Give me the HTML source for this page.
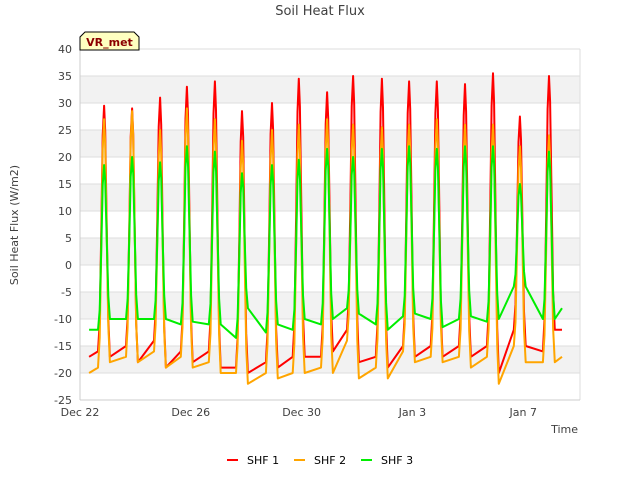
<!DOCTYPE html>
<html><head><meta charset="utf-8"><style>
body{margin:0;background:#fff;}
svg text{font-family:"DejaVu Sans","Liberation Sans",sans-serif;}
</style></head><body>
<svg id="chart" width="640" height="480" xmlns="http://www.w3.org/2000/svg">
<rect width="640" height="480" fill="#fff"/>
<text x="320" y="15" text-anchor="middle" font-size="13" fill="#404040">Soil Heat Flux</text>
<g id="bands"></g>
<g id="grid"></g>
<g id="yticks"></g>
<g id="xticks"></g>
<g id="series"></g>
<line x1="80" y1="400" x2="580" y2="400" stroke="#ccc"/>
<line x1="80" y1="49" x2="80" y2="400" stroke="#ccc"/>
<text transform="translate(18,225) rotate(-90)" text-anchor="middle" font-size="11" fill="#404040">Soil Heat Flux (W/m2)</text>
<text x="578" y="433" text-anchor="end" font-size="11" fill="#404040">Time</text>
<g>
<path d="M80,50 L80,37 L85,32 L134,32 L139,37 L139,50 Z" fill="#ffffc0" stroke="#000" stroke-width="1"/>
<text x="109.5" y="46" text-anchor="middle" font-size="11" font-weight="bold" fill="#8b0000">VR_met</text>
</g>
<g id="legend"></g>
</svg>
<script>
const yTicks=[40,35,30,25,20,15,10,5,0,-5,-10,-15,-20,-25];
const xTickLabels=["Dec 22","Dec 26","Dec 30","Jan 3","Jan 7"];
const xTickDays=[0,4,8,12,16];
const seriesNames=["SHF 1","SHF 2","SHF 3"];
const seriesColors=["#ff0000","#ffa500","#00ee00"];
const peakDays=[0.87,1.88,2.89,3.86,4.87,5.85,6.93,7.9,8.92,9.86,10.9,11.88,12.88,13.9,14.91,15.88,16.93];
const peak1=[29.5,29,31,33,34,28.5,30,34.5,32,35,34.5,34,34,33.5,35.5,27.5,35];
const peak2=[27,28.5,25,29,27,23,25,26,27,26,25.5,26,27,26,26,22,24];
const peak3=[18.5,20,19,22,21,17,18.5,19.5,21.5,20,21.5,22,21.5,22,22,15,21];
const nightEnd1=[-16,-15,-14,-16,-16,-19,-18,-17,-17,-12,-17,-15,-15,-15,-15,-12,-16];
const nightStart1=[-17,-18,-19,-18,-19,-20,-19,-17,-16,-18,-19,-17,-17,-17,-20,-15,-12];
const nightEnd2=[-19,-17,-16,-17,-18,-20,-20,-20,-19,-14,-19,-16,-17,-17,-17,-15,-18];
const nightStart2=[-18,-18,-19,-19,-20,-22,-21,-20,-20,-21,-21,-18,-18,-19,-22,-18,-18];
const nightEnd3=[-12,-10,-10,-11,-11,-13.5,-12.5,-12,-11,-8,-11,-9.5,-10,-10,-10.5,-4,-10];
const nightStart3=[-10,-10,-10,-10.5,-11,-8,-11,-10,-10,-9,-12,-9,-11.5,-9.5,-10,-4,-10];
const startDay=0.33, endDay=17.4;
const startValues=[-17,-20,-12];
const endValues=[-12,-17,-8];

const NS="http://www.w3.org/2000/svg";
const X0=80,X1=580,Y0=49,Y1=400,DMAX=18.05;
const xs=d=>X0+(X1-X0)*d/DMAX;
const ys=v=>Y0+(40-v)*(Y1-Y0)/65;
function mk(tag,parent){const e=document.createElementNS(NS,tag);document.getElementById(parent).appendChild(e);return e;}

for(let i=0;i<yTicks.length-1;i++){
  if(i%2===1){
    const r=mk('rect','bands');
    
    
    r.setAttribute('x',X0);r.setAttribute('y',ys(yTicks[i]));r.setAttribute('width',X1-X0);r.setAttribute('height',ys(yTicks[i+1])-ys(yTicks[i]));r.setAttribute('fill','#f2f2f2');
  }
}
yTicks.forEach(v=>{
  const l=mk('line','grid');
  
  
  l.setAttribute('x1',X0);l.setAttribute('x2',X1);l.setAttribute('y1',ys(v));l.setAttribute('y2',ys(v));l.setAttribute('stroke','#dedede');
  const t=mk('text','yticks');
  
  
  t.setAttribute('x',X0-8);t.setAttribute('y',ys(v)+4);t.setAttribute('text-anchor','end');t.setAttribute('font-size','11');t.setAttribute('fill','#404040');t.textContent=v;
});
const vl=mk('line','grid');


vl.setAttribute('x1',X1);vl.setAttribute('x2',X1);vl.setAttribute('y1',Y0);vl.setAttribute('y2',Y1);vl.setAttribute('stroke','#dedede');
xTickLabels.forEach((s,i)=>{
  const t=mk('text','xticks');
  
  
  t.setAttribute('x',xs(xTickDays[i]));t.setAttribute('y',416);t.setAttribute('text-anchor','middle');t.setAttribute('font-size','11');t.setAttribute('fill','#404040');t.textContent=s;
});

const allPeaks=[peak1,peak2,peak3],allNE=[nightEnd1,nightEnd2,nightEnd3],allNS=[nightStart1,nightStart2,nightStart3];
const riseShape=[[-0.22,0],[-0.16,0.12],[-0.1,0.5],[-0.05,0.88],[0,1]];
const fallShape=[[0.04,0.9],[0.09,0.55],[0.15,0.15],[0.21,0]];
[0,1,2].forEach(s=>{
  const pk=allPeaks[s],ne=allNE[s],nsv=allNS[s];
  const pts=[[startDay,startValues[s]]];
  peakDays.forEach((p,i)=>{
    const base=ne[i],top=pk[i],after=nsv[i];
    riseShape.forEach(r=>pts.push([p+r[0],base+(top-base)*r[1]]));
    fallShape.forEach(f=>pts.push([p+f[0],after+(top-after)*f[1]]));
  });
  pts.push([endDay,endValues[s]]);
  const path=mk('path','series');
  
  
  path.setAttribute('d',pts.map((q,i)=>(i?'L':'M')+xs(q[0]).toFixed(1)+','+ys(q[1]).toFixed(1)).join(''));
  path.setAttribute('fill','none');path.setAttribute('stroke',seriesColors[s]);path.setAttribute('stroke-width','2');path.setAttribute('stroke-linejoin','round');
});

const legX=[227,294,361];
seriesNames.forEach((n,i)=>{
  const l=mk('line','legend');
  
  
  l.setAttribute('x1',legX[i]);l.setAttribute('x2',legX[i]+11);l.setAttribute('y1',460);l.setAttribute('y2',460);l.setAttribute('stroke',seriesColors[i]);l.setAttribute('stroke-width','2');
  const t=mk('text','legend');
  
  
  t.setAttribute('x',legX[i]+20);t.setAttribute('y',464);t.setAttribute('font-size','11');t.setAttribute('fill','#000');t.textContent=n;
});
</script>
</body></html>
